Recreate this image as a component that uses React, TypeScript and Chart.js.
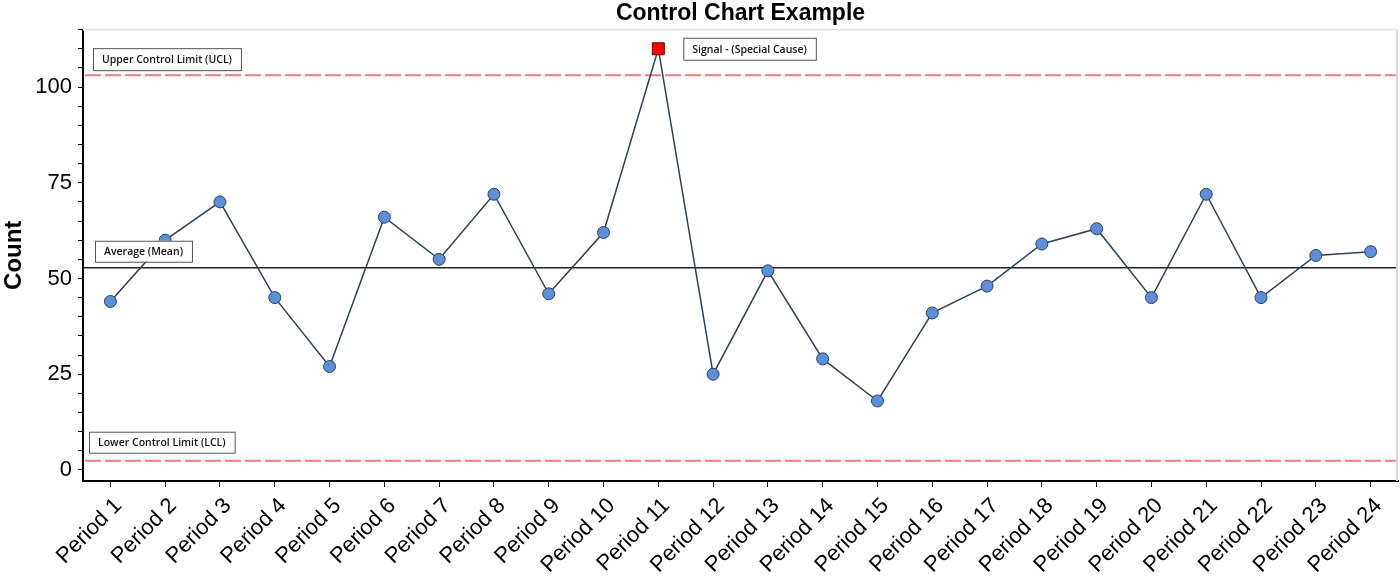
import React, { useEffect, useRef } from "react";
import { Chart, registerables } from "chart.js";

Chart.register(...registerables);

const categories = [
  "Period 1", "Period 2", "Period 3", "Period 4", "Period 5", "Period 6",
  "Period 7", "Period 8", "Period 9", "Period 10", "Period 11", "Period 12",
  "Period 13", "Period 14", "Period 15", "Period 16", "Period 17", "Period 18",
  "Period 19", "Period 20", "Period 21", "Period 22", "Period 23", "Period 24",
];
const counts = [44, 60, 70, 45, 27, 66, 55, 72, 46, 62, 110, 25, 52, 29, 18, 41, 48, 59, 63, 45, 72, 45, 56, 57];
const meanValue = 52.8;
const uclValue = 103.1;
const lclValue = 2.4;
const yTickValues = [0, 5, 10, 15, 20, 25, 30, 35, 40, 45, 50, 55, 60, 65, 70, 75, 80, 85, 90, 95, 100, 105, 110, 115];
const yLabelValues = [0, 25, 50, 75, 100];
const limitLabels = ["Upper Control Limit (UCL)", "Average (Mean)", "Lower Control Limit (LCL)"];
const signalLabel = "Signal - (Special Cause)";

const BOX_FONT = "600 10.5px 'Open Sans', 'DejaVu Sans', sans-serif";
const FONT = "'Liberation Sans', Arial, sans-serif";

function drawBox(ctx: CanvasRenderingContext2D, text: string, left: number, top: number, h: number) {
  ctx.save();
  ctx.font = BOX_FONT;
  const w = ctx.measureText(text).width + 18;
  ctx.fillStyle = "#ffffff";
  ctx.fillRect(left, top, w, h);
  ctx.strokeStyle = "#555555";
  ctx.lineWidth = 1;
  ctx.strokeRect(left + 0.5, top + 0.5, w, h);
  ctx.fillStyle = "#111111";
  ctx.textBaseline = "middle";
  ctx.textAlign = "left";
  ctx.fillText(text, left + 9, top + h / 2 + 1);
  ctx.restore();
}

const controlPlugin = {
  id: "controlLines",
  beforeDatasetsDraw(chart: any) {
    const { ctx, chartArea, scales } = chart;
    const y = scales.y;
    ctx.save();
    ctx.strokeStyle = "#e6e6e6";
    ctx.lineWidth = 2;
    ctx.beginPath();
    ctx.moveTo(chartArea.left, chartArea.top);
    ctx.lineTo(chartArea.right, chartArea.top);
    ctx.stroke();
    ctx.strokeStyle = "#d8d8d8";
    ctx.beginPath();
    ctx.moveTo(chartArea.right - 1, chartArea.top);
    ctx.lineTo(chartArea.right - 1, chartArea.bottom);
    ctx.stroke();
    ctx.strokeStyle = "#ee7b7b";
    ctx.lineWidth = 2;
    ctx.setLineDash([16, 4]);
    [uclValue, lclValue].forEach((v) => {
      const py = y.getPixelForValue(v);
      ctx.beginPath();
      ctx.moveTo(chartArea.left + 2, py);
      ctx.lineTo(chartArea.right - 2, py);
      ctx.stroke();
    });
    ctx.setLineDash([]);
    ctx.strokeStyle = "#222222";
    ctx.lineWidth = 1.5;
    const my = y.getPixelForValue(meanValue);
    ctx.beginPath();
    ctx.moveTo(chartArea.left, my);
    ctx.lineTo(chartArea.right - 2, my);
    ctx.stroke();
    ctx.restore();
  },
  afterDatasetsDraw(chart: any) {
    const { ctx, chartArea, scales } = chart;
    const y = scales.y;
    const x = scales.x;
    drawBox(ctx, limitLabels[0], chartArea.left + 10, y.getPixelForValue(uclValue) - 27, 22);
    drawBox(ctx, limitLabels[1], chartArea.left + 12, y.getPixelForValue(meanValue) - 27, 21);
    drawBox(ctx, limitLabels[2], chartArea.left + 6, y.getPixelForValue(lclValue) - 29, 21);
    const sigIdx = counts.findIndex((v) => v > uclValue);
    if (sigIdx >= 0) {
      const px = x.getPixelForValue(sigIdx);
      const py = y.getPixelForValue(counts[sigIdx]);
      drawBox(ctx, signalLabel, px + 25, py - 11, 22);
    }
  },
};

export default function App() {
  const ref = useRef<HTMLCanvasElement>(null);
  useEffect(() => {
    document.body.style.margin = "0";
    const canvas = ref.current!;
    const signal = counts.map((v) => v > uclValue);
    const chart = new Chart(canvas, {
      type: "line",
      data: {
        labels: categories,
        datasets: [
          {
            data: counts,
            borderColor: "#2e4058",
            borderWidth: 1.5,
            tension: 0,
            pointStyle: signal.map((s) => (s ? "rect" : "circle")) as any,
            pointRadius: signal.map((s) => (s ? 8.5 : 6)),
            pointBackgroundColor: signal.map((s) => (s ? "#ff0000" : "#5b8fdc")),
            pointBorderColor: signal.map((s) => (s ? "#5a1010" : "#2e4058")),
            pointBorderWidth: 1,
          },
        ],
      },
      options: {
        responsive: false,
        animation: false,
        devicePixelRatio: 1,
        layout: { autoPadding: false, padding: { left: 0, right: 2, top: 0, bottom: 0 } },
        plugins: {
          legend: { display: false },
          tooltip: { enabled: false },
          title: {
            display: true,
            fullSize: false,
            text: "Control Chart Example",
            color: "#000000",
            font: { family: FONT, size: 23, weight: "bold" },
            padding: { top: 0, bottom: 2 },
          },
        },
        scales: {
          x: {
            offset: true,
            grid: { drawOnChartArea: false, drawTicks: true, tickLength: 6, color: "#000000", offset: false },
            border: { color: "#000000", width: 2 },
            ticks: {
              color: "#000000",
              font: { family: FONT, size: 22 },
              minRotation: 45,
              maxRotation: 45,
              autoSkip: false,
              padding: 6,
              labelOffset: 8,
            },
            afterFit: (s: any) => {
              s.height = 99;
              s.paddingRight = 0;
            },
          },
          y: {
            min: -2.9,
            max: 115,
            afterBuildTicks: (axis: any) => {
              axis.ticks = yTickValues.map((v) => ({ value: v }));
            },
            grid: { drawOnChartArea: false, drawTicks: true, tickLength: 5, color: "#000000" },
            border: { color: "#000000", width: 2 },
            ticks: {
              color: "#000000",
              autoSkip: false,
              font: { family: FONT, size: 22 },
              padding: 6,
              callback: (v: any) => (yLabelValues.includes(Number(v)) ? String(v) : ""),
            },
            title: {
              display: true,
              text: "Count",
              color: "#000000",
              font: { family: FONT, size: 24, weight: "bold" },
              padding: { top: 0, bottom: 0 },
            },
            afterFit: (s: any) => {
              s.width = 83;
            },
          },
        },
      },
      plugins: [controlPlugin],
    });
    return () => chart.destroy();
  }, []);
  return (
    <div style={{ position: "absolute", left: 0, top: 0, width: 1400, height: 580, background: "#fff" }}>
      <canvas ref={ref} width={1400} height={580} />
    </div>
  );
}
